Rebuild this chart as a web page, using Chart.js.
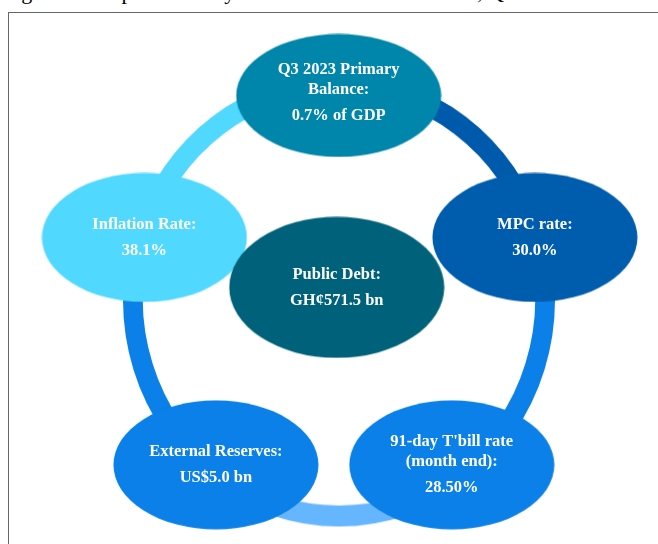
<!DOCTYPE html>
<html><head><meta charset="utf-8">
<script src="https://cdn.jsdelivr.net/npm/chart.js@4"></script>
<style>
html,body{margin:0;padding:0;background:#fff;width:658px;height:544px;overflow:hidden;position:relative;}
#title{position:absolute;left:3px;top:-19px;font:22px "Liberation Serif","Times New Roman",serif;line-height:22px;white-space:nowrap;color:#000;}
#frame{position:absolute;left:8px;top:12px;width:700px;height:600px;border-left:1px solid #666;border-top:1px solid #666;}
#ringWrap{position:absolute;left:123px;top:84px;width:432px;height:432px;transform:scaleY(1.0485);transform-origin:50% 50%;}
#nodes{position:absolute;left:0;top:0;}
</style></head><body>
<div id="title">Figure 1: Snapshot of Key Macroeconomic Indicators, Q3 2023</div>
<div id="frame"></div>
<div id="ringWrap"><canvas id="ring" width="432" height="432"></canvas></div>
<canvas id="nodes" width="658" height="544"></canvas>
<script>
// ---- data ----
const indicatorLabels = [
  ["Q3 2023 Primary", "Balance:"],
  ["MPC rate:"],
  ["91-day T'bill rate", "(month end):"],
  ["External Reserves:"],
  ["Inflation Rate:"],
  ["Public Debt:"]
];
const indicatorValues = ["0.7% of GDP", "30.0%", "28.50%", "US$5.0 bn", "38.1%", "GH¢571.5 bn"];
const ringSegments = [1, 1, 1, 1, 1]; // equal links between the five outer indicators

// ---- layout / style (kept separate from data) ----
const nodeLayout = [
  {x: 339, y: 88,  rx: 103, ry: 62, color: '#0086AA', dy: -3},
  {x: 542, y: 236, rx: 103, ry: 65, color: '#005DAE', dy: 0},
  {x: 456, y: 473, rx: 103, ry: 65, color: '#0A80E8', dy: 0},
  {x: 212, y: 473, rx: 103, ry: 65, color: '#0A80E8', dy: 0},
  {x: 138, y: 236, rx: 103, ry: 65, color: '#50D8FF', dy: 0},
  {x: 337, y: 288, rx: 108, ry: 71, color: '#00627A', dy: 0}
];
const ringColors = ['#005AAB', '#0A80E8', '#66B5FF', '#0A80E8', '#50D8FF'];

function ellipseImage(rx, ry, color) {
  const c = document.createElement('canvas');
  c.width = rx * 2; c.height = ry * 2;
  const g = c.getContext('2d');
  g.fillStyle = color;
  g.beginPath();
  g.ellipse(rx, ry, rx - 0.5, ry - 0.5, 0, 0, Math.PI * 2);
  g.fill();
  return c;
}

new Chart(document.getElementById('ring'), {
  type: 'doughnut',
  data: {
    labels: ringSegments.map((_, i) => 'link ' + (i + 1)),
    datasets: [{
      data: ringSegments,
      backgroundColor: ringColors,
      borderWidth: 0,
      hoverOffset: 0
    }]
  },
  options: {
    responsive: false,
    animation: false,
    devicePixelRatio: 1,
    cutout: 196,
    rotation: 0,
    layout: {padding: 0},
    events: [],
    plugins: {legend: {display: false}, tooltip: {enabled: false}}
  }
});

const labelPlugin = {
  id: 'nodeLabels',
  afterDatasetsDraw(chart) {
    const ctx = chart.ctx;
    const meta = chart.getDatasetMeta(0);
    ctx.save();
    ctx.fillStyle = '#FFFFFF';
    ctx.textAlign = 'center';
    ctx.textBaseline = 'middle';
    ctx.font = 'bold 16.5px "Liberation Serif", "Times New Roman", serif';
    meta.data.forEach((pt, i) => {
      const lines = indicatorLabels[i];
      const offs = [];
      lines.forEach((_, k) => offs.push(k * 20));
      const vOff = offs[offs.length - 1] + 26;
      const shift = -vOff / 2 + nodeLayout[i].dy;
      lines.forEach((t, k) => ctx.fillText(t, pt.x, pt.y + offs[k] + shift));
      ctx.fillText(indicatorValues[i], pt.x, pt.y + vOff + shift);
    });
    ctx.restore();
  }
};

new Chart(document.getElementById('nodes'), {
  type: 'scatter',
  data: {
    datasets: [{
      data: nodeLayout.map(n => ({x: n.x, y: n.y})),
      pointStyle: nodeLayout.map(n => ellipseImage(n.rx, n.ry, n.color)),
      pointRadius: 10,
      pointHoverRadius: 10
    }]
  },
  options: {
    responsive: false,
    animation: false,
    devicePixelRatio: 1,
    layout: {padding: 0},
    events: [],
    scales: {
      x: {type: 'linear', min: 0, max: 658, display: false},
      y: {type: 'linear', min: 0, max: 544, reverse: true, display: false}
    },
    plugins: {legend: {display: false}, tooltip: {enabled: false}}
  },
  plugins: [labelPlugin]
});
</script>
</body></html>
